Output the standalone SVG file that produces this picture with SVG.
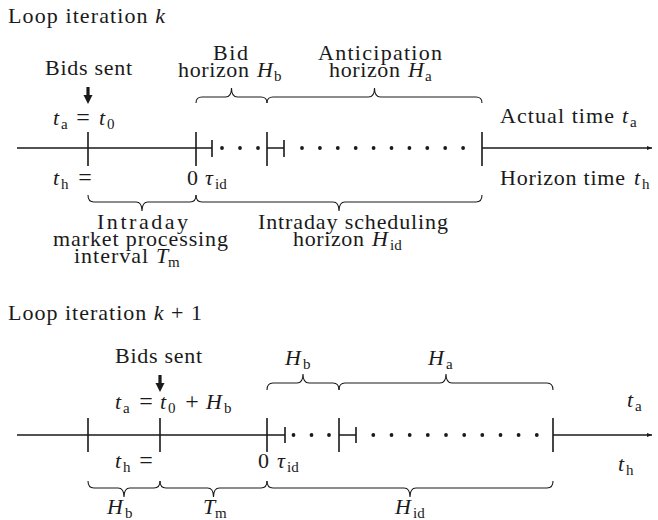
<svg xmlns="http://www.w3.org/2000/svg" width="658" height="520" viewBox="0 0 658 520">
<style>
text{font-family:"Liberation Serif","Times New Roman",serif;font-size:22px;fill:#1a1a1a}
.i{font-style:italic}
.s{font-size:15px}
.op{font-size:24px;text-anchor:middle}
.ln{stroke:#1a1a1a;stroke-width:1.4;fill:none}
.tk{stroke:#1a1a1a;stroke-width:1.6;fill:none}
.br{stroke:#1a1a1a;stroke-width:1.1;fill:none}
.dot{fill:#1a1a1a}
.ar{stroke:#1a1a1a;stroke-width:3.2}
</style>
<defs>
<marker id="ah" markerWidth="7" markerHeight="7" refX="5" refY="3.5" orient="auto" markerUnits="userSpaceOnUse">
<path d="M0,1.5 L5,3.5 L0,5.5 Z" fill="#1a1a1a"/>
</marker>
<circle id="d" r="1.9" class="dot"/>
</defs>

<rect width="658" height="520" fill="#fff"/>

<!-- ===== Loop iteration k ===== -->
<g id="iter-k">
<text x="8" y="23" textLength="157" lengthAdjust="spacing">Loop iteration <tspan class="i">k</tspan></text>

<g id="timeline-k">
<path class="ln" d="M17,148 H212 M267,148 H284"/>
<path class="ln" d="M482,148 H652" marker-end="url(#ah)"/>
<path class="tk" d="M88,132 V166 M196,132 V166 M267,132 V166 M482,132 V166 M212,140 V157 M284,140 V157"/>
<use href="#d" x="222" y="148"/><use href="#d" x="240" y="148"/><use href="#d" x="258" y="148"/>
<use href="#d" x="302" y="148"/><use href="#d" x="319.9" y="148"/><use href="#d" x="337.8" y="148"/><use href="#d" x="355.7" y="148"/><use href="#d" x="373.6" y="148"/><use href="#d" x="391.5" y="148"/><use href="#d" x="409.4" y="148"/><use href="#d" x="427.3" y="148"/><use href="#d" x="445.2" y="148"/><use href="#d" x="463.1" y="148"/>
</g>

<g id="bids-sent-k">
<text x="45" y="75" textLength="87" lengthAdjust="spacing">Bids sent</text>
<path class="ar" d="M88,87 V96"/>
<path d="M83.5,95 L92.5,95 L88,104 Z" fill="#1a1a1a"/>
<text x="53" y="125" class="i">t</text><text x="61" y="128.5" class="s">a</text>
<text x="83" y="125" class="op">=</text>
<text x="99" y="125" class="i">t</text><text x="107" y="128.5" class="s">0</text>
</g>

<g id="braces-k">
<path class="br" d="M196,103 Q196,97 202,97 L225.5,97 Q231.5,97 231.5,88 Q231.5,97 237.5,97 L261,97 Q267,97 267,103"/>
<path class="br" d="M267,103 Q267,97 273,97 L368.5,97 Q374.5,97 374.5,88 Q374.5,97 380.5,97 L476,97 Q482,97 482,103"/>
<path class="br" d="M88,195 Q88,202 94,202 L136,202 Q142,202 142,211 Q142,202 148,202 L190,202 Q196,202 196,195"/>
<path class="br" d="M196,195 Q196,202 202,202 L333,202 Q339,202 339,211 Q339,202 345,202 L476,202 Q482,202 482,195"/>
</g>

<g id="label-bid-horizon">
<text x="213" y="60" textLength="35" lengthAdjust="spacing">Bid</text>
<text x="178" y="77" textLength="71" lengthAdjust="spacing">horizon</text>
<text x="257" y="77" class="i">H</text><text x="274" y="80.5" class="s">b</text>
</g>
<g id="label-anticipation">
<text x="318" y="60" textLength="124" lengthAdjust="spacing">Anticipation</text>
<text x="329" y="77" textLength="71" lengthAdjust="spacing">horizon</text>
<text x="408" y="77" class="i">H</text><text x="425" y="80.5" class="s">a</text>
</g>
<g id="label-actual">
<text x="500" y="123" textLength="114" lengthAdjust="spacing">Actual time</text>
<text x="622" y="123" class="i">t</text><text x="630" y="126.5" class="s">a</text>
</g>
<g id="label-th-k">
<text x="53" y="185" class="i">t</text><text x="61" y="188.5" class="s">h</text>
<text x="85" y="185" class="op">=</text>
<text x="187" y="185">0</text>
<text x="205" y="185" class="i">τ</text><text x="215" y="188.5" class="s">id</text>
</g>
<g id="label-horizon-time">
<text x="500" y="185" textLength="125" lengthAdjust="spacing">Horizon time</text>
<text x="634" y="185" class="i">t</text><text x="642" y="188.5" class="s">h</text>
</g>
<g id="label-market">
<text x="97" y="229" textLength="91" lengthAdjust="spacing">Intraday</text>
<text x="53" y="246" textLength="175" lengthAdjust="spacing">market processing</text>
<text x="74" y="263" textLength="74" lengthAdjust="spacing">interval</text>
<text x="156" y="263" class="i">T</text><text x="168" y="266.5" class="s">m</text>
</g>
<g id="label-scheduling">
<text x="258" y="229" textLength="190" lengthAdjust="spacing">Intraday scheduling</text>
<text x="293" y="246" textLength="71" lengthAdjust="spacing">horizon</text>
<text x="372" y="246" class="i">H</text><text x="390" y="249.5" class="s">id</text>
</g>
</g>

<!-- ===== Loop iteration k+1 ===== -->
<g id="iter-k1">
<text x="8" y="320" textLength="194" lengthAdjust="spacing">Loop iteration <tspan class="i">k</tspan> + 1</text>

<g id="timeline-k1">
<path class="ln" d="M17,435 H285 M339,435 H356"/>
<path class="ln" d="M553,435 H652" marker-end="url(#ah)"/>
<path class="tk" d="M88,418 V452 M160,418 V452 M267,418 V452 M339,418 V452 M553,418 V452 M285,427 V443 M356,427 V443"/>
<use href="#d" x="293.5" y="435"/><use href="#d" x="311.5" y="435"/><use href="#d" x="329" y="435"/>
<use href="#d" x="373.3" y="435"/><use href="#d" x="391.5" y="435"/><use href="#d" x="409.7" y="435"/><use href="#d" x="427.8" y="435"/><use href="#d" x="446" y="435"/><use href="#d" x="464.2" y="435"/><use href="#d" x="482.3" y="435"/><use href="#d" x="500.5" y="435"/><use href="#d" x="518.6" y="435"/><use href="#d" x="536.8" y="435"/>
</g>

<g id="bids-sent-k1">
<text x="115" y="363" textLength="87" lengthAdjust="spacing">Bids sent</text>
<path class="ar" d="M160,375 V384"/>
<path d="M155.5,383 L164.5,383 L160,392 Z" fill="#1a1a1a"/>
<text x="115" y="409" class="i">t</text><text x="123" y="412.5" class="s">a</text>
<text x="146" y="409" class="op">=</text>
<text x="160" y="409" class="i">t</text><text x="168" y="412.5" class="s">0</text>
<text x="192" y="409" class="op">+</text>
<text x="206" y="409" class="i">H</text><text x="224" y="412.5" class="s">b</text>
</g>

<g id="braces-k1">
<path class="br" d="M267,390 Q267,383 273,383 L297,383 Q303,383 303,374 Q303,383 309,383 L333,383 Q339,383 339,390"/>
<path class="br" d="M339,390 Q339,383 345,383 L440,383 Q446,383 446,374 Q446,383 452,383 L547,383 Q553,383 553,390"/>
<path class="br" d="M88,481 Q88,488 94,488 L118,488 Q124,488 124,497 Q124,488 130,488 L154,488 Q160,488 160,481"/>
<path class="br" d="M160,481 Q160,488 166,488 L207.5,488 Q213.5,488 213.5,497 Q213.5,488 219.5,488 L261,488 Q267,488 267,481"/>
<path class="br" d="M267,481 Q267,488 273,488 L404,488 Q410,488 410,497 Q410,488 416,488 L547,488 Q553,488 553,481"/>
</g>

<g id="labels-k1">
<text x="285" y="365" class="i">H</text><text x="303" y="368.5" class="s">b</text>
<text x="428" y="365" class="i">H</text><text x="446" y="368.5" class="s">a</text>
<text x="627" y="407" class="i">t</text><text x="635" y="410.5" class="s">a</text>
<text x="115" y="468" class="i">t</text><text x="123" y="471.5" class="s">h</text>
<text x="146" y="468" class="op">=</text>
<text x="258" y="468">0</text>
<text x="277" y="468" class="i">τ</text><text x="287" y="471.5" class="s">id</text>
<text x="618" y="471" class="i">t</text><text x="626" y="474.5" class="s">h</text>
<text x="107" y="514" class="i">H</text><text x="125" y="517.5" class="s">b</text>
<text x="203" y="514" class="i">T</text><text x="215" y="517.5" class="s">m</text>
<text x="395" y="514" class="i">H</text><text x="413" y="517.5" class="s">id</text>
</g>
</g>
</svg>
